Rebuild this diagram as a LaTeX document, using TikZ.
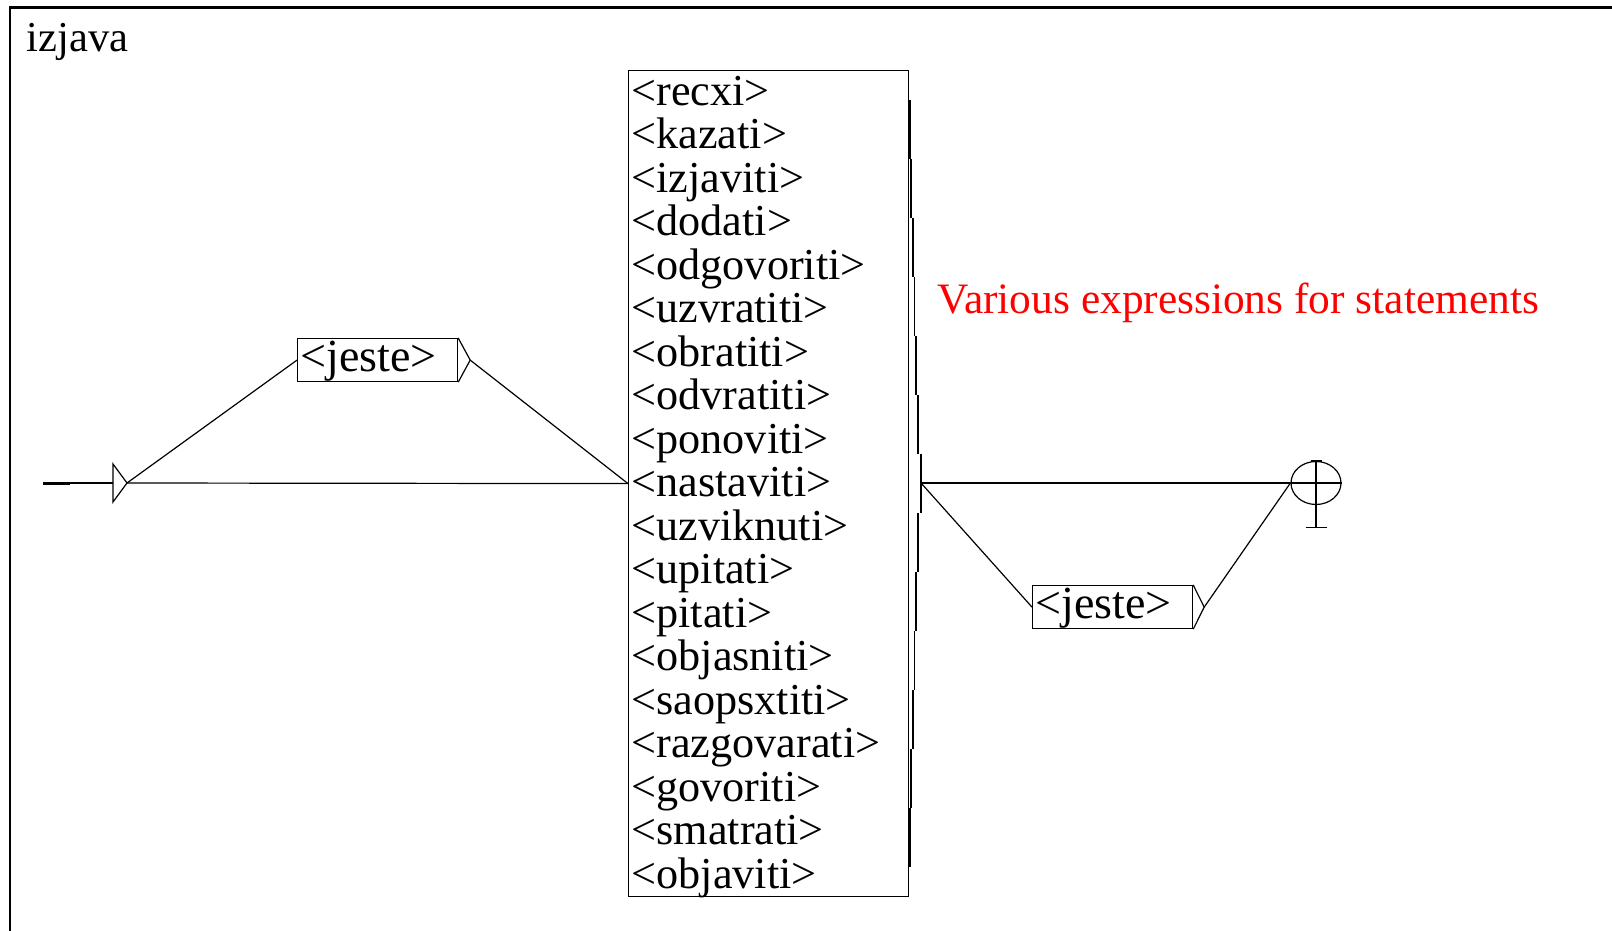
\documentclass[tikz,border=0pt]{standalone}
\usepackage{fontspec}
\setmainfont{Liberation Serif}
\usetikzlibrary{shapes.geometric,positioning}

\begin{document}
\begin{tikzpicture}[x=0.5pt,y=-0.5pt,line width=0.6pt,
  every node/.style={inner sep=0pt},
  unibox/.style={draw,anchor=north west,inner xsep=1.5pt,text width=77pt,align=left,
    text height=16.5pt,text depth=5pt,font=\fontsize{23}{23}\selectfont},
  entry/.style={anchor=base west,font=\fontsize{22.1}{22.1}\selectfont},
  comment/.style={anchor=base west,text=red,font=\fontsize{21.7}{21.7}\selectfont}]
  \useasboundingbox (0,0) rectangle (1612,931);
  \draw[line width=1.2pt] (10,931) -- (10,7.5) -- (1612,7.5);
  \node[anchor=base west,font=\fontsize{21.3}{21.3}\selectfont] (title) at (26,52) {izjava};

  \coordinate (start) at (43,483);
  \coordinate (init) at (127,483);
  \draw[line width=1.5pt] (start) -- ++(27,0);
  \draw (start) -- ++(70,0);
  \draw (init) -- ++(-14,-19) -- ++(0,38) -- cycle;

  \node[unibox] (jeste1) at (297,338) {<jeste>};
  \coordinate (jeste1 tip) at ([xshift=6pt]jeste1.east);
  \draw (jeste1.north east) -- (jeste1 tip) -- (jeste1.south east);

  \node[draw,anchor=north west,minimum width=140pt,minimum height=413pt] (list) at (628,70) {};
  \foreach \w [count=\n] in {recxi,kazati,izjaviti,dodati,odgovoriti,uzvratiti,obratiti,odvratiti,ponoviti,nastaviti,uzviknuti,upitati,pitati,objasniti,saopsxtiti,razgovarati,govoriti,smatrati,objaviti}
    \node[entry] (row\n) at (631,{105+43.5*(\n-1)}) {<\w>};
  \foreach \x/\lw [count=\k from 0] in {909.5/1.1,911/0.8,913/0.7,914.5/0.7,916/0.7,918/0.7} {
    \draw[line width=\lw pt] (\x,{100+59*\k}) -- (\x,{159+59*\k});
    \draw[line width=\lw pt] (\x,{867-59*\k}) -- (\x,{808-59*\k});
  }
  \draw[line width=0.7pt] (921,454) -- (921,513);
  \coordinate (list out) at (921,483);

  \node[comment] (note) at (937,313) {Various expressions for statements};

  \node[unibox] (jeste2) at (1032,585) {<jeste>};
  \coordinate (jeste2 tip) at ([xshift=5.5pt]jeste2.east);
  \draw (jeste2.north east) -- (jeste2 tip) -- (jeste2.south east);

  \node[draw,ellipse,minimum width=25pt,minimum height=21.5pt] (final) at (1316,483) {};
  \draw (final.west) -- (final.east);
  \draw ([yshift=-11.25pt]final.south) -- (final.north);
  \draw ([xshift=-2.75pt]final.north) -- ([xshift=2.75pt]final.north);
  \draw ([xshift=-5.25pt,yshift=-11.25pt]final.south) -- ([xshift=5.25pt,yshift=-11.25pt]final.south);

  \draw (init) -- (list.west);
  \draw (init) -- (jeste1.west);
  \draw (jeste1 tip) -- (list.west);
  \draw (list out) -- (final.west);
  \draw (list out) -- (jeste2.west);
  \draw (jeste2 tip) -- (final.west);
\end{tikzpicture}
\end{document}
